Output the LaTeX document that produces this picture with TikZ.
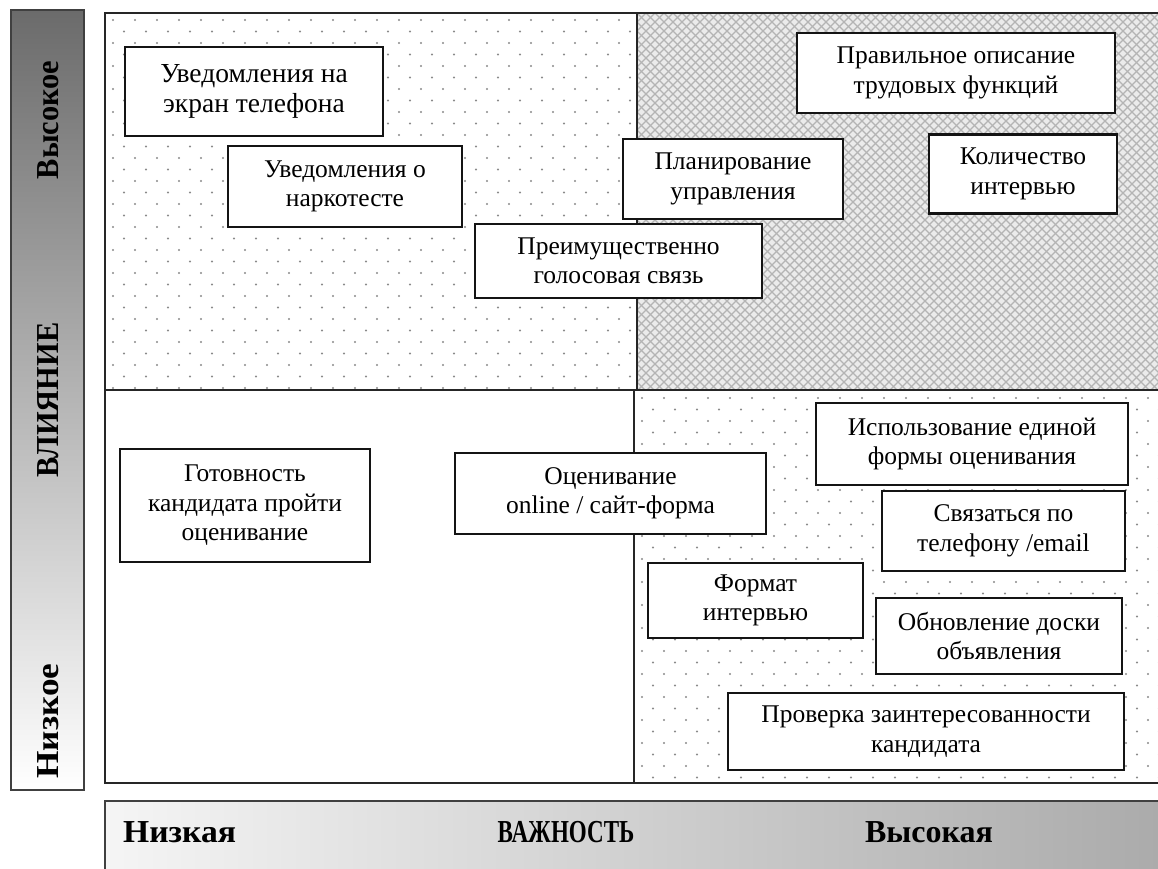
\documentclass[tikz,border=0pt]{standalone}
\usepackage{fontspec}
\setmainfont{Liberation Serif}
\usetikzlibrary{shadings}
\definecolor{dotc}{HTML}{8A8A8A}
\definecolor{hatchbg}{HTML}{EBEBEB}
\definecolor{hatchln}{HTML}{B4B4B4}
\tikzset{
  box/.style={draw=black!92, line width=2.5pt, fill=white, align=center, inner sep=0pt,
    font=\fontsize{25.5}{29.5}\selectfont},
  bigtext/.style={font=\fontsize{27.5}{30}\selectfont},
  frameline/.style={draw=black!85, line width=2pt},
  axislabel/.style={font=\fontsize{32}{34}\selectfont\bfseries, inner sep=0pt},
  hatch/.style={draw=hatchln, line width=1.2pt},
}
\begin{document}
\begin{tikzpicture}[x=1pt,y=-1pt]
\useasboundingbox (0,0) rectangle (1158,868);
\fill[white] (0,0) rectangle (1158,868);

% left axis bar
\shade[top color=black!58, bottom color=white] (11,10) rectangle (84,790);
\draw[draw=black!75, line width=1.5pt] (11,10) rectangle (84,790);
\node[axislabel, rotate=90] (hi) at (48,120) {\scalebox{0.95}[1]{Высокое}};
\node[axislabel, rotate=90] (infl) at (48,400) {\scalebox{0.95}[1]{ВЛИЯНИЕ}};
\node[axislabel, rotate=90] (lo) at (48,721) {\scalebox{1.1}[1]{Низкое}};

% bottom axis bar
\shade[left color=black!4, right color=black!33] (105,801) rectangle (1162,872);
\draw[draw=black!75, line width=2pt] (105,872) -- (105,801) -- (1162,801);
\node[axislabel, anchor=west] (lowimp) at (123,832) {\scalebox{1.05}[1]{Низкая}};
\node[axislabel] (imp) at (566,832) {\scalebox{0.72}[1]{ВАЖНОСТЬ}};
\node[axislabel] (highimp) at (929,832) {Высокая};

% top-left quadrant: dots
\begin{scope}
\clip (105,13) rectangle (637,390);
\foreach \r in {0,...,33}{
  \foreach \c in {0,...,25}{
    \fill[dotc] ({105+8+\c*22+mod(\r,2)*11},{13+7+\r*11.5}) circle (1.1pt);
  }
}
\end{scope}
% bottom-right quadrant: dots
\begin{scope}
\clip (634,390) rectangle (1158,783);
\foreach \r in {0,...,34}{
  \foreach \c in {0,...,24}{
    \fill[dotc] ({634+8+\c*22+mod(\r,2)*11},{390+8+\r*11.5}) circle (1.1pt);
  }
}
\end{scope}
% top-right quadrant: crosshatch
\begin{scope}
\clip (637,13) rectangle (1158,390);
\fill[hatchbg] (637,13) rectangle (1158,390);
\foreach \k in {-50,...,110}{
  \draw[hatch] ({637+\k*9},13) -- ++(400,400);
  \draw[hatch] ({637+\k*9},13) -- ++(-400,400);
}
\end{scope}

% frame and dividers
\draw[frameline] (1162,13) -- (105,13) -- (105,783) -- (1162,783);
\draw[frameline] (105,390) -- (1162,390);
\draw[frameline] (637,13) -- (637,390);
\draw[frameline] (634,390) -- (634,783);

% boxes
\node[box, bigtext, minimum width=258pt, minimum height=89pt] (b1) at (254,91.5) {Уведомления на\\экран телефона};
\node[box, minimum width=234pt, minimum height=81pt] (b2) at (345,186.5) {Уведомления о\\наркотесте};
\node[box, minimum width=220pt, minimum height=80pt] (b4) at (733,179) {Планирование\\управления};
\node[box, minimum width=287pt, minimum height=74pt] (b3) at (618.5,261) {Преимущественно\\голосовая связь};
\node[box, minimum width=318pt, minimum height=80pt] (b5) at (956,73) {Правильное описание\\трудовых функций};
\node[box, minimum width=188pt, minimum height=79pt] (b6) at (1023,174) {Количество\\интервью};

\node[box, minimum width=250pt, minimum height=113pt] (b7) at (245,505.5) {Готовность\\кандидата пройти\\оценивание};
\node[box, minimum width=311pt, minimum height=81pt] (b8) at (610.5,493.5) {Оценивание\\online / сайт-форма};
\node[box, minimum width=312pt, minimum height=82pt] (b9) at (972,444) {Использование единой\\формы оценивания};
\node[box, minimum width=243pt, minimum height=80pt] (b10) at (1003.5,531) {Связаться по\\телефону /email};
\node[box, minimum width=215pt, minimum height=75pt] (b11) at (755.5,600.5) {Формат\\интервью};
\node[box, minimum width=246pt, minimum height=76pt] (b12) at (999,636) {Обновление доски\\объявления};
\node[box, minimum width=396pt, minimum height=77pt] (b13) at (926,731.5) {Проверка заинтересованности\\кандидата};
\end{tikzpicture}
\end{document}
